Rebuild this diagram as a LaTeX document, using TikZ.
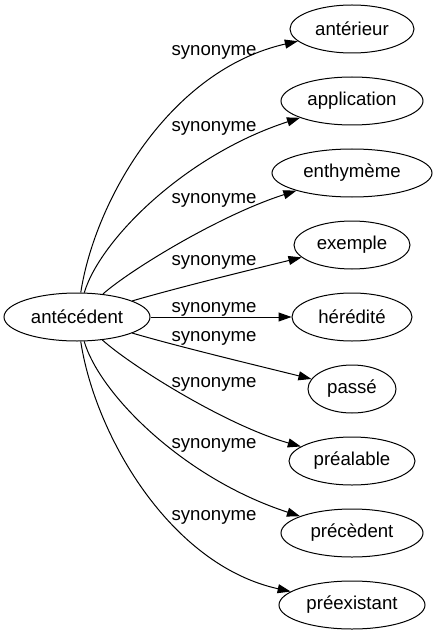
\documentclass[tikz,border=0pt]{standalone}
\usepackage{fontspec}
\setmainfont{Liberation Sans}
\usetikzlibrary{arrows.meta,shapes.geometric}
\begin{document}
\begin{tikzpicture}[x=1bp,y=-1bp,
  word/.style={draw, ellipse, line width=1bp, inner sep=0pt, minimum height=48bp,
    font=\fontsize{18.7}{22}\selectfont},
  rel/.style={-{Triangle[length=13bp,width=9bp]}, line width=1bp},
  lbl/.style={font=\fontsize{18.7}{22}\selectfont, anchor=base, inner sep=0pt}]
\useasboundingbox (0,0) rectangle (438,635);
\node[word, minimum width=146bp] (L) at (77,317) {antécédent};
\node[word, minimum width=124bp] (A) at (352,29) {antérieur};
\node[word, minimum width=142bp] (B) at (352,101) {application};
\node[word, minimum width=160bp] (C) at (352,173) {enthymème};
\node[word, minimum width=116bp] (D) at (352,245) {exemple};
\node[word, minimum width=120bp] (E) at (352,317) {hérédité};
\node[word, minimum width=88bp] (F) at (352,389) {passé};
\node[word, minimum width=126bp] (G) at (352,461) {préalable};
\node[word, minimum width=142bp] (H) at (352,533) {précèdent};
\node[word, minimum width=146bp] (I) at (352,605) {préexistant};
\draw[rel] (L) .. controls (95,200) and (170,70) .. (A);
\draw[rel] (L) .. controls (100,240) and (185,155) .. (B);
\draw[rel] (L) .. controls (130,270) and (220,215) .. (C);
\draw[rel] (L) .. controls (180,287) and (250,270) .. (D);
\draw[rel] (L) -- (E);
\draw[rel] (L) .. controls (180,347) and (255,365) .. (F);
\draw[rel] (L) .. controls (130,365) and (225,425) .. (G);
\draw[rel] (L) .. controls (100,395) and (185,479) .. (H);
\draw[rel] (L) .. controls (95,435) and (170,565) .. (I);
\node[lbl] (s1) at (214,56) {synonyme};
\node[lbl] (s2) at (214,132) {synonyme};
\node[lbl] (s3) at (214,203) {synonyme};
\node[lbl] (s4) at (214,265) {synonyme};
\node[lbl] (s5) at (214,312) {synonyme};
\node[lbl] (s6) at (214,341) {synonyme};
\node[lbl] (s7) at (214,387) {synonyme};
\node[lbl] (s8) at (214,448) {synonyme};
\node[lbl] (s9) at (214,520) {synonyme};
\end{tikzpicture}
\end{document}
